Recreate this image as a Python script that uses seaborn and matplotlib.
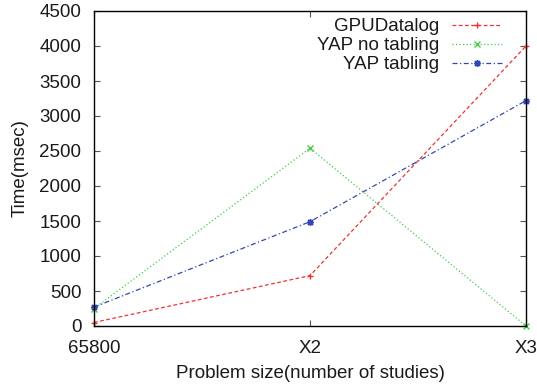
import matplotlib
matplotlib.use("Agg")
import matplotlib.pyplot as plt
import seaborn as sns
import pandas as pd

categories = ["65800", "X2", "X3"]
gpudatalog = [50, 720, 4000]
yap_no_tabling = [250, 2540, 0]
yap_tabling = [270, 1490, 3220]
series_names = ["GPUDatalog", "YAP no tabling", "YAP tabling"]

rows = []
for name, vals in zip(series_names, [gpudatalog, yap_no_tabling, yap_tabling]):
    for i, v in enumerate(vals):
        rows.append({"x": i, "time": v, "series": name})
df = pd.DataFrame(rows)

sns.set_style("ticks")
plt.rcParams['font.family'] = ['Liberation Sans', 'DejaVu Sans']

FS = 13.5
TXT = "#1a1a1a"

fig = plt.figure(figsize=(5.37, 3.86), dpi=100)
ax = fig.add_axes([94 / 537, 60 / 386, 432 / 537, 315 / 386])

colors = {"GPUDatalog": "#ee3333", "YAP no tabling": "#44cc44", "YAP tabling": "#3347b3"}
styles = {"GPUDatalog": (0, (3, 2)), "YAP no tabling": (0, (1, 1.8)), "YAP tabling": (0, (4, 2, 1, 2))}
markers = {"GPUDatalog": "+", "YAP no tabling": "x", "YAP tabling": (8, 2, 0)}

for name in series_names:
    sub = df[df.series == name]
    sns.lineplot(data=sub, x="x", y="time", ax=ax, color=colors[name],
                 linestyle=styles[name], marker=markers[name], markersize=5,
                 markeredgewidth=1, markeredgecolor=colors[name],
                 linewidth=0.9, label=name, clip_on=False)

ax.set_xlim(0, 2)
ax.set_ylim(0, 4500)
ax.set_xticks([0, 1, 2])
ax.set_xticklabels(categories)
ax.set_yticks(range(0, 4501, 500))
ax.tick_params(direction="in", top=True, right=True, labelsize=FS, length=4,
               width=0.8, colors="#555555", labelcolor=TXT)
ax.tick_params(axis="x", pad=10)
ax.tick_params(axis="y", pad=9)
for s in ax.spines.values():
    s.set_linewidth(1.0)
    s.set_color("black")
ax.set_xlabel("Problem size(number of studies)", fontsize=FS, color=TXT, labelpad=6)
ax.set_ylabel("Time(msec)", fontsize=FS, color=TXT, labelpad=8)
ax.grid(False)

leg = ax.legend(loc="upper right", frameon=False, markerfirst=False, fontsize=FS,
                handlelength=2.67, borderaxespad=0, borderpad=0, labelspacing=0.1,
                handletextpad=0.7, bbox_to_anchor=(502 / 537, (386 - 18) / 386),
                bbox_transform=fig.transFigure)
for t in leg.get_texts():
    t.set_ha("right")
    t.set_color(TXT)
leg._legend_box.align = "right"

fig.savefig("out.png", dpi=100)
